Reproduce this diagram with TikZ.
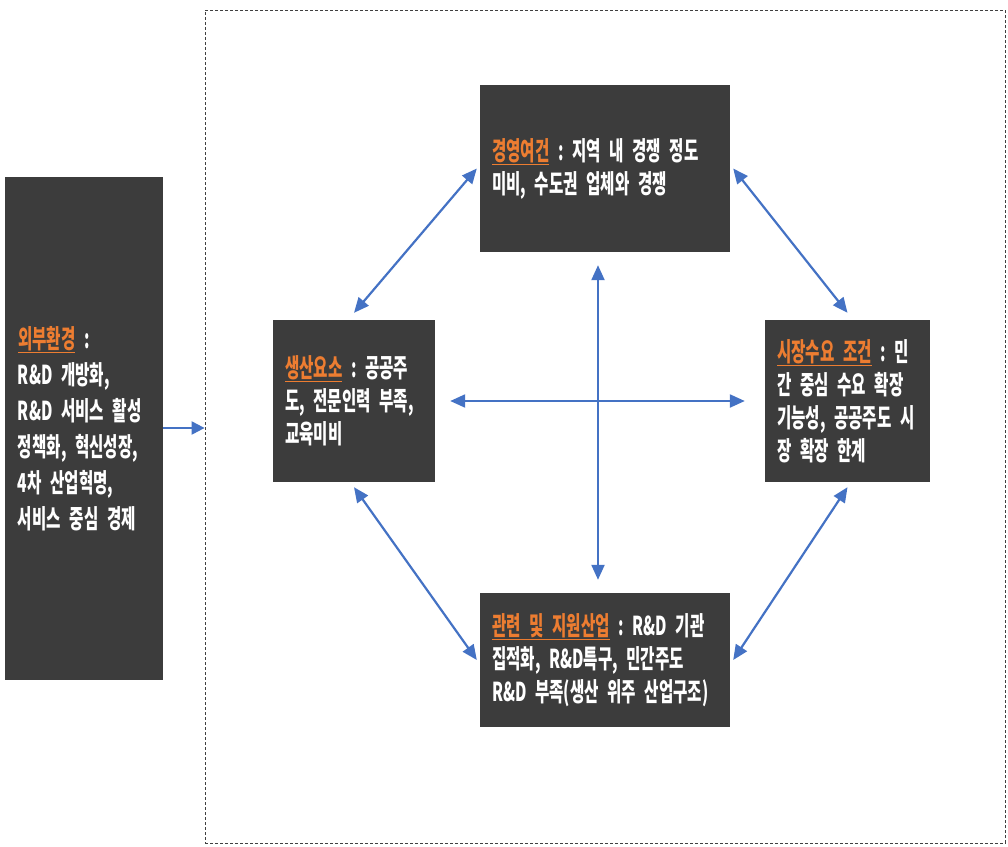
\documentclass[tikz,border=0pt]{standalone}
\usepackage{fontspec}
\setmainfont{Noto Sans CJK KR}[FakeStretch=0.6,WordSpace=0.5]
\usepackage{xcolor}
\usetikzlibrary{positioning,arrows.meta,calc}
\definecolor{boxgray}{RGB}{60,60,60}
\definecolor{headorange}{RGB}{237,125,49}
\definecolor{arrblue}{RGB}{68,114,196}
\newcommand{\head}[1]{\textcolor{headorange}{\underline{#1}}}

\begin{document}
\begin{tikzpicture}[
  x=1pt,y=-1pt,
  font=\fontsize{26}{33}\selectfont\bfseries,
  box/.style={fill=boxgray,text=white,align=left,inner xsep=12pt,inner ysep=0pt},
  frame/.style={draw=black!75,dash pattern=on 3pt off 2pt,line width=0.8pt,
                minimum width=800pt,minimum height=833pt,inner sep=0pt},
  arr/.style={{Triangle[length=15pt,width=13pt]}-{Triangle[length=15pt,width=13pt]},
              line width=2.2pt,draw=arrblue},
  arrin/.style={-{Triangle[length=13pt,width=13pt]},line width=2.2pt,draw=arrblue},
]
  \useasboundingbox (0,0) rectangle (1008,846);
  \node[frame] (frame) at (605,426.5) {};
  \node[box,text width=132pt,inner xsep=13pt,minimum height=503pt,
        font=\fontsize{26}{36}\selectfont\bfseries] (ext) at (84,428.5)
    {\head{외부환경}~:\\R\&D~개방화,\\R\&D~서비스~활성\\정책화,~혁신성장,\\4차~산업혁명,\\서비스~중심~경제};
  \node[box,text width=226pt,minimum height=167pt] (mgmt) at (605,168.5)
    {\head{경영여건}~:~지역~내~경쟁~정도\\미비,~수도권~업체와~경쟁};
  \node[box,text width=138pt,minimum height=162pt] (prod) at (354,401)
    {\head{생산요소}~:~공공주\\도,~전문인력~부족,\\교육미비};
  \node[box,text width=141pt,minimum height=162pt] (mkt) at (847.5,401)
    {\head{시장수요~조건}~:~민\\간~중심~수요~확장\\기능성,~공공주도~시\\장~확장~한계};
  \node[box,text width=226pt,minimum height=134pt] (rel) at (605,660)
    {\head{관련~및~지원산업}~:~R\&D~기관\\집적화,~R\&D특구,~민간주도\\R\&D~부족(생산~위주~산업구조)};

  \draw[arrin] (ext.east |- 0,428) -- (frame.west |- 0,428);
  \draw[arr] ([yshift=7pt]prod.north) -- ([xshift=-3pt]mgmt.west);
  \draw[arr] ([xshift=3pt]mgmt.east) -- ([yshift=7pt]mkt.north);
  \draw[arr] ([yshift=-5pt]prod.south) -- ([xshift=-3pt]rel.west);
  \draw[arr] ([xshift=3pt]rel.east) -- ([yshift=-5pt]mkt.south);
  \draw[arr] ([xshift=-7pt,yshift=-13pt]mgmt.south) -- ([xshift=-7pt,yshift=13pt]rel.north);
  \draw[arr] ([xshift=15pt]prod.east) -- ([xshift=-20pt]mkt.west);
\end{tikzpicture}
\end{document}
